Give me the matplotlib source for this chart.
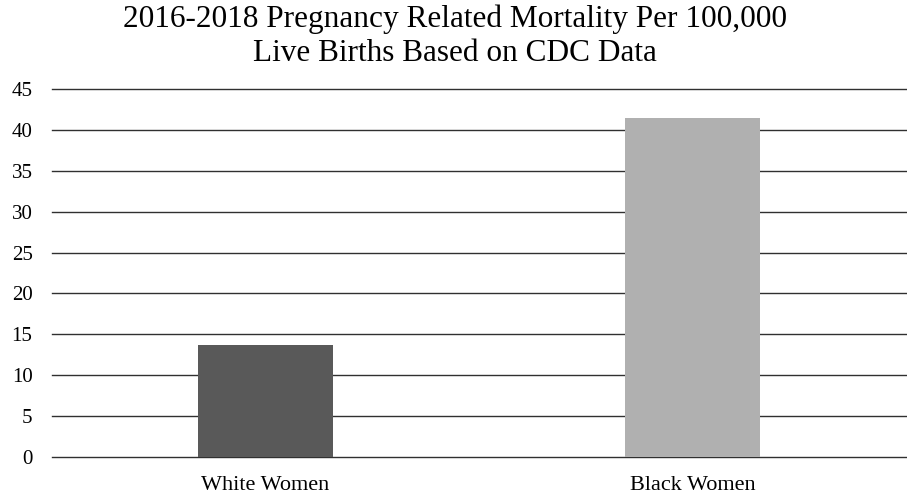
import numpy as np
from matplotlib import pyplot as plt

categories = ['White Women', 'Black Women']
mortality = [13.7, 41.4]
bar_colors = ['#595959', '#b0b0b0']
y_ticks = [0, 5, 10, 15, 20, 25, 30, 35, 40, 45]
title_lines = ['2016-2018 Pregnancy Related Mortality Per 100,000',
               'Live Births Based on CDC Data']

plt.rcParams['font.family'] = ['Liberation Serif', 'DejaVu Serif']

fig = plt.figure(figsize=(9.07, 4.96), dpi=100)
ax = fig.add_axes([0.0573, 0.0786, 0.9416, 0.742])

x = np.arange(len(categories))
ax.bar(x, mortality, width=0.314, color=bar_colors, zorder=3)

ax.set_xlim(-0.5, 1.5)
ax.set_ylim(0, 45)
ax.set_yticks(y_ticks)
ax.set_xticks(x)
ax.set_xticklabels(categories)
ax.tick_params(axis='both', length=0)
ax.tick_params(axis='y', pad=14, labelsize=15)
ax.tick_params(axis='x', pad=14, labelsize=16)
ax.yaxis.grid(True, color='#303030', linewidth=1.0, zorder=0)
ax.set_axisbelow(True)
for line in ax.get_ygridlines():
    line.set_clip_on(False)
for s in ax.spines.values():
    s.set_visible(False)

# two title lines, baselines
fig.text(0.502, 1 - 27 / 496, title_lines[0], ha='center', va='baseline', fontsize=22.5)
fig.text(0.502, 1 - 61 / 496, title_lines[1], ha='center', va='baseline', fontsize=22.5)

fig.savefig('out.png', dpi=100)
